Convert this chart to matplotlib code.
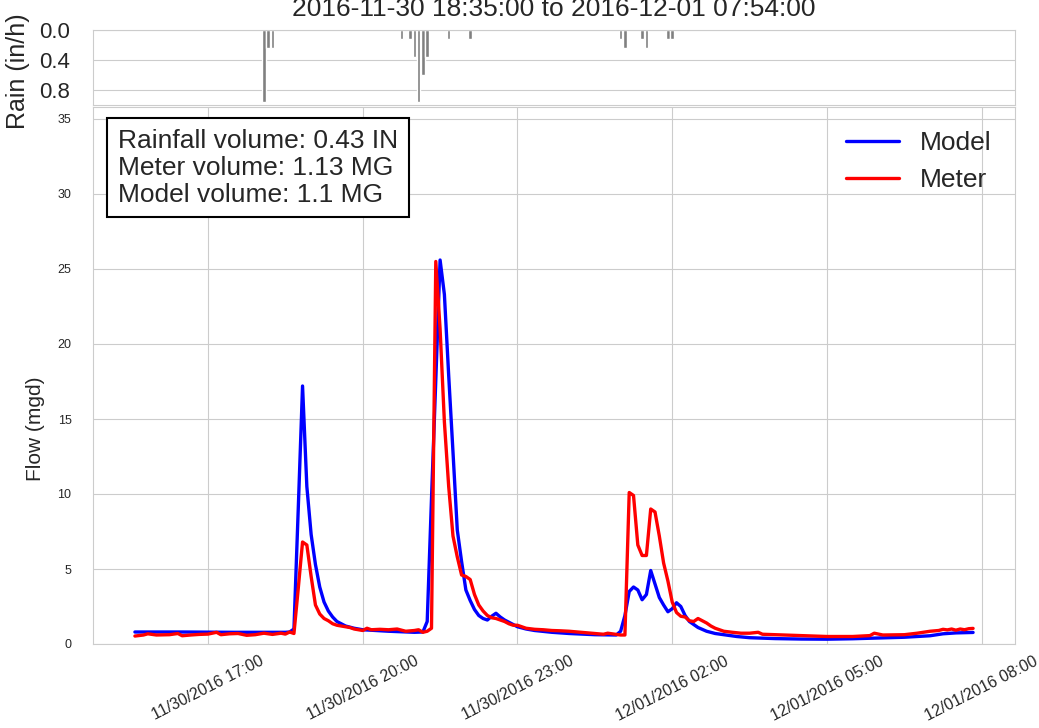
import numpy as np
import pandas as pd
import matplotlib
matplotlib.use("Agg")
import matplotlib.pyplot as plt
import matplotlib.dates as mdates
import seaborn as sns

# model flow (mgd), clock times 11/30 -> 12/01
model_time = ["15:35", "16:30", "17:30", "18:30", "18:35", "18:40", "18:45", "18:50", "18:55",
              "19:00", "19:05", "19:10", "19:15", "19:20", "19:25", "19:30", "19:35", "19:40",
              "19:50", "20:00", "20:30", "21:00", "21:10", "21:15", "21:20", "21:25", "21:30",
              "21:35", "21:40", "21:45", "21:50", "21:55", "22:00", "22:05", "22:10", "22:15",
              "22:20", "22:25", "22:30", "22:35", "22:40", "22:45", "22:50", "22:55", "23:00",
              "23:10", "23:20", "23:40", "00:00", "00:30", "00:55", "01:00", "01:05", "01:10",
              "01:15", "01:20", "01:25", "01:30", "01:35", "01:40", "01:45", "01:50", "01:55",
              "02:00", "02:05", "02:10", "02:15", "02:20", "02:25", "02:30", "02:40", "02:50",
              "03:00", "03:15", "03:30", "04:00", "04:30", "05:00", "05:30", "06:00", "06:30",
              "07:00", "07:15", "07:30", "07:50"]
model_flow = [0.80, 0.80, 0.78, 0.78, 0.80, 1.0, 9.0, 17.2, 10.5,
              7.3, 5.3, 3.8, 2.8, 2.2, 1.8, 1.5, 1.35, 1.2,
              1.05, 0.95, 0.85, 0.78, 0.8, 1.5, 9.7, 17.6, 25.6,
              23.3, 17.9, 12.8, 7.6, 5.5, 3.6, 2.9, 2.3, 1.9,
              1.7, 1.6, 1.85, 2.05, 1.8, 1.6, 1.45, 1.3, 1.15,
              1.0, 0.9, 0.78, 0.7, 0.62, 0.6, 0.85, 1.9, 3.5,
              3.8, 3.6, 2.95, 3.3, 4.9, 4.0, 3.1, 2.6, 2.15,
              2.35, 2.75, 2.5, 1.9, 1.5, 1.3, 1.1, 0.85, 0.7,
              0.62, 0.5, 0.42, 0.36, 0.33, 0.32, 0.35, 0.4, 0.45,
              0.55, 0.68, 0.74, 0.77]

# meter flow (mgd)
meter_time = ["15:35", "15:45", "15:50", "16:00", "16:15", "16:25", "16:30", "16:40", "16:50",
              "17:00", "17:10", "17:15", "17:25", "17:35", "17:45", "17:55", "18:05", "18:15",
              "18:25", "18:30", "18:35", "18:40", "18:45", "18:50", "18:55", "19:00", "19:05",
              "19:10", "19:15", "19:20", "19:25", "19:30", "19:35", "19:40", "19:45", "19:50",
              "19:55", "20:00", "20:05", "20:10", "20:20", "20:30", "20:40", "20:50", "21:00",
              "21:05", "21:10", "21:15", "21:20", "21:25", "21:30", "21:35", "21:40", "21:45",
              "21:50", "21:55", "22:00", "22:05", "22:10", "22:15", "22:20", "22:25", "22:30",
              "22:35", "22:40", "22:45", "22:50", "22:55", "23:00", "23:05", "23:10", "23:20",
              "23:30", "23:40", "23:50", "00:00", "00:10", "00:20", "00:30", "00:40", "00:45",
              "00:50", "01:00", "01:05", "01:10", "01:15", "01:20", "01:25", "01:30", "01:35",
              "01:40", "01:45", "01:50", "01:55", "02:00", "02:05", "02:10", "02:15", "02:20",
              "02:25", "02:30", "02:35", "02:40", "02:45", "02:50", "02:55", "03:00", "03:10",
              "03:20", "03:30", "03:40", "03:45", "04:00", "04:30", "05:00", "05:30", "05:50",
              "05:55", "06:05", "06:30", "06:45", "07:00", "07:10", "07:15", "07:20", "07:25",
              "07:30", "07:35", "07:40", "07:45", "07:50"]
meter_flow = [0.53, 0.60, 0.68, 0.60, 0.62, 0.70, 0.55, 0.60, 0.64,
              0.66, 0.78, 0.62, 0.68, 0.70, 0.58, 0.62, 0.72, 0.64,
              0.72, 0.66, 0.80, 0.70, 3.7, 6.8, 6.6, 4.5, 2.6,
              2.0, 1.7, 1.55, 1.35, 1.25, 1.2, 1.15, 1.1, 1.0,
              0.95, 0.9, 1.05, 0.95, 0.98, 0.95, 1.0, 0.85, 0.9,
              0.95, 0.78, 0.85, 1.05, 25.5, 21.0, 14.8, 10.5, 7.2,
              5.8, 4.6, 4.5, 4.3, 3.3, 2.6, 2.2, 1.9, 1.75,
              1.7, 1.6, 1.5, 1.35, 1.25, 1.25, 1.15, 1.05, 0.98,
              0.95, 0.9, 0.88, 0.85, 0.8, 0.75, 0.7, 0.65, 0.72,
              0.68, 0.6, 0.6, 10.1, 9.9, 6.6, 5.9, 5.9, 9.0,
              8.8, 7.2, 5.4, 4.2, 2.8, 2.1, 1.85, 1.8, 1.55,
              1.5, 1.7, 1.55, 1.4, 1.2, 1.05, 0.95, 0.85, 0.78,
              0.72, 0.72, 0.78, 0.65, 0.62, 0.56, 0.5, 0.5, 0.56,
              0.72, 0.6, 0.62, 0.72, 0.85, 0.9, 0.98, 0.94, 1.0,
              0.92, 1.0, 0.95, 1.02, 1.04]

# rain intensity (in/h)
rain_time = ["18:05", "18:10", "18:15", "20:45", "20:55", "21:00", "21:05", "21:10", "21:15",
             "21:40", "22:05", "01:00", "01:05", "01:25", "01:30", "01:55", "02:00"]
rain_val = [0.96, 0.24, 0.24, 0.12, 0.12, 0.36, 0.96, 0.6, 0.36,
            0.12, 0.12, 0.12, 0.24, 0.12, 0.24, 0.12, 0.12]

title = "2016-11-30 18:35:00 to 2016-12-01 07:54:00"
summary = "Rainfall volume: 0.43 IN\nMeter volume: 1.13 MG\nModel volume: 1.1 MG"


def to_dt(clock):
    # evening hours belong to 11/30, morning hours to 12/01
    t = pd.to_datetime(clock, format="%H:%M")
    day = pd.Timestamp("2016-11-30") if t.hour >= 12 else pd.Timestamp("2016-12-01")
    return day + pd.Timedelta(hours=t.hour, minutes=t.minute)


mt = [to_dt(s) for s in model_time]
et = [to_dt(s) for s in meter_time]
rt = [to_dt(s) for s in rain_time]

sns.set_style("whitegrid")
plt.rcParams["font.family"] = ["Liberation Sans", "DejaVu Sans"]

W, H = 1039, 728
fig = plt.figure(figsize=(W / 100, H / 100), dpi=100)
ax_r = fig.add_axes([93 / W, (H - 105) / H, 922 / W, 75 / H])
ax_f = fig.add_axes([93 / W, (H - 644) / H, 922 / W, 537 / H], sharex=ax_r)

ax_r.bar(rt, rain_val, width=4 / 1440, color="grey")
ax_r.set_ylim(1.0, 0)
ax_r.set_yticks([0.0, 0.4, 0.8])
ax_r.set_yticklabels(["0.0", "0.4", "0.8"], fontsize=16)
ax_r.tick_params(axis="y", pad=13)
ax_r.grid(axis="x", visible=False)
ax_r.tick_params(axis="x", labelbottom=False)
ax_r.set_ylabel("Rain (in/h)", fontsize=18)
ax_r.yaxis.set_label_coords(-0.068, 0.45)
ax_r.set_title(title, fontsize=19, pad=10)

ax_f.plot(mt, model_flow, color="blue", lw=2.4, label="Model")
ax_f.plot(et, meter_flow, color="red", lw=2.4, label="Meter")
ax_f.set_ylim(0, 35.8)
ax_f.set_yticks(range(0, 40, 5))
ax_f.tick_params(axis="y", labelsize=9, pad=12)
ax_f.set_ylabel("Flow (mgd)", fontsize=15)
ax_f.yaxis.set_label_coords(-0.052, 0.40)

ax_f.xaxis.set_major_locator(mdates.HourLocator(byhour=range(2, 24, 3)))
ax_f.xaxis.set_major_formatter(mdates.DateFormatter("%m/%d/%Y %H:%M"))
for lab in ax_f.get_xticklabels():
    lab.set_rotation(27)
    lab.set_fontsize(11.5)
ax_f.margins(x=0.05)

ax_f.legend(loc="upper right", fontsize=19, frameon=False)
ax_f.text(0.027, 0.959, summary, transform=ax_f.transAxes, va="top", ha="left",
          fontsize=19, linespacing=1.15,
          bbox=dict(boxstyle="square,pad=0.4", fc="white", ec="black", lw=1.5))

fig.savefig("out.png", dpi=100)
